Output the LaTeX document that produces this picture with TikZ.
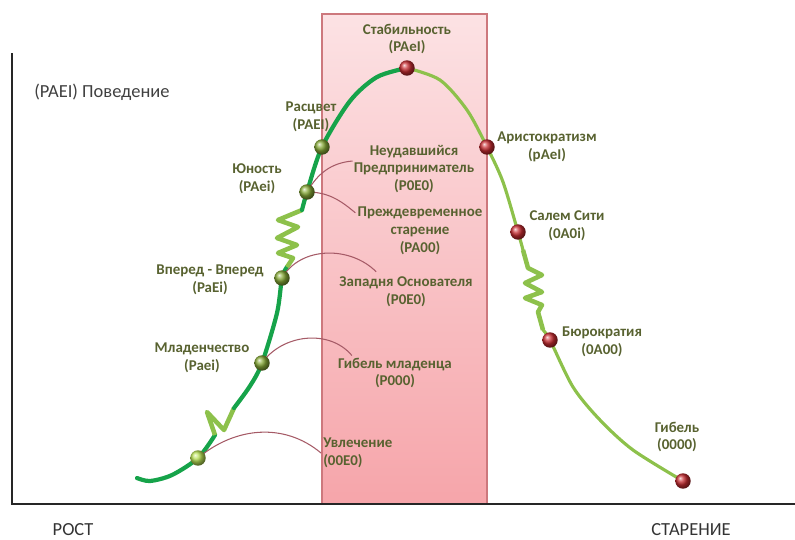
\documentclass[tikz,border=0pt]{standalone}
\usepackage{fontspec}
\setmainfont{Carlito}
\usetikzlibrary{shapes,arrows,positioning,calc}
\definecolor{youngline}{RGB}{22,163,74}
\definecolor{oldline}{RGB}{141,193,75}
\definecolor{stagetext}{RGB}{88,98,48}
\definecolor{linkred}{RGB}{165,90,102}
\definecolor{dotgreen}{RGB}{135,170,55}
\definecolor{dotlime}{RGB}{185,225,85}
\definecolor{dotred}{RGB}{200,45,50}
\definecolor{zonetop}{RGB}{252,226,228}
\definecolor{zonebot}{RGB}{246,165,170}
\definecolor{zoneedge}{RGB}{205,120,125}

\begin{document}
\begin{tikzpicture}[x=0.02cm,y=-0.02cm,semithick]
  \tikzstyle{stage}=[font=\fontsize{8.5}{10.2}\selectfont\bfseries, text=stagetext, align=center, inner sep=1pt]
  \tikzstyle{axislabel}=[font=\fontsize{10.5}{12}\selectfont, text=black!80, inner sep=1pt]
  \tikzstyle{dot}=[circle, minimum size=8.8pt, inner sep=0pt]
  \tikzstyle{greendot}=[dot, ball color=dotgreen]
  \tikzstyle{limedot}=[dot, ball color=dotlime]
  \tikzstyle{reddot}=[dot, ball color=dotred]
  \tikzstyle{link}=[linkred, line width=0.6pt]
  \tikzstyle{young}=[youngline, line width=2.4pt, line cap=round]
  \tikzstyle{old}=[oldline, line width=1.8pt, line cap=round]
  \tikzstyle{spring}=[oldline, line width=2.6pt, line join=round]

  \useasboundingbox (0,0) rectangle (795,539);

  % zone
  \path[draw=zoneedge, top color=zonetop, bottom color=zonebot] (322,14) rectangle (487,504);

  % axes
  \draw[line width=1.6pt, black!85] (12,53) -- (12,504) -- (795,504);

  % stages on the curve
  \coordinate (start) at (137,478);
  \coordinate (U) at (198,458);
  \coordinate (M) at (262,363);
  \coordinate (V) at (282,278);
  \coordinate (Y) at (307,192);
  \coordinate (R) at (322,147);
  \coordinate (S) at (407,68);
  \coordinate (A) at (487,147);
  \coordinate (C) at (518,232);
  \coordinate (B) at (550,340);
  \coordinate (G) at (683,481);

  \draw[young] plot[smooth] coordinates {(start) (150,481) (172,475) (U) (215,435)};
  \draw[spring] (215,435) -- (207,412) -- (224,430) -- (234,408);
  \draw[young] plot[smooth] coordinates {(234,408) (250,386) (M) (277,313) (V) (287,267)};
  \draw[spring] (287,267) -- (293,258) -- (278,253) -- (297,245) -- (277,238)
    -- (298,227) -- (278,220) -- (302,210);
  \draw[young] plot[smooth] coordinates {(302,210) (Y) (R) (350,101) (377,77) (S)};
  \draw[old] plot[smooth] coordinates {(S) (440,80) (467,110) (A) (503,182) (C) (523,250)};
  \draw[spring] (523,250) -- (528,268) -- (542,275) -- (525,283) -- (542,292)
    -- (525,298) -- (542,305) -- (538,312) -- (543,330);
  \draw[old] plot[smooth] coordinates {(543,330) (B) (573,387) (600,420) (633,450) (G)};

  % labels
  \node[anchor=west, font=\fontsize{10.5}{12}\selectfont, text=black!75] (title) at (28,92) {(PAEI) Поведение};
  \node[axislabel] (grow) at (73,530) {РОСТ};
  \node[axislabel] (age)  at (691,530) {СТАРЕНИЕ};

  \node[stage] (lStab) at (407,39)  {Стабильность\\(PAeI)};
  \node[stage] (lRas)  at (311,117) {Расцвет\\(PAEI)};
  \node[stage] (lYun)  at (257,179) {Юность\\(PAei)};
  \node[stage] (lVpe)  at (210,280) {Вперед - Вперед\\(PaEi)};
  \node[stage] (lMla)  at (202,358) {Младенчество\\(Paei)};
  \node[stage, anchor=west, align=left] (lUvl) at (321,453) {Увлечение\\(00E0)};
  \node[stage] (lGib)  at (395,373) {Гибель младенца\\(P000)};
  \node[stage] (lZap)  at (406,292) {Западня Основателя\\(P0E0)};
  \node[stage] (lNeu)  at (414,169) {Неудавшийся\\Предприниматель\\(P0E0)};
  \node[stage] (lPre)  at (420,231) {Преждевременное\\старение\\(PA00)};
  \node[stage] (lAri)  at (547,147) {Аристократизм\\(pAeI)};
  \node[stage] (lSal)  at (567,226) {Салем Сити\\(0A0i)};
  \node[stage] (lBur)  at (602,342) {Бюрократия\\(0A00)};
  \node[stage] (lDie)  at (677,437) {Гибель\\(0000)};

  % traps
  \path[link]
  (U) edge [out=40, in=140]  (lUvl.west)
  (M) edge [out=55, in=130]  ($(lGib.north west)+(16,0)$)
  (V) edge [out=60, in=135]  ($(lZap.north west)+(39,-3)$)
  (Y) edge [out=60, in=185]  ($(lNeu.west)+(1,-8)$)
  (Y) edge [out=0,  in=140]  ($(lPre.north west)+(0,8)$)
  ;

  % dots
  \node[limedot]  (dU) at (U) {};
  \node[greendot] (dM) at (M) {};
  \node[greendot] (dV) at (V) {};
  \node[greendot] (dY) at (Y) {};
  \node[greendot] (dR) at (R) {};
  \node[reddot]   (dS) at (S) {};
  \node[reddot]   (dA) at (A) {};
  \node[reddot]   (dC) at (C) {};
  \node[reddot]   (dB) at (B) {};
  \node[reddot]   (dG) at (G) {};
\end{tikzpicture}
\end{document}
